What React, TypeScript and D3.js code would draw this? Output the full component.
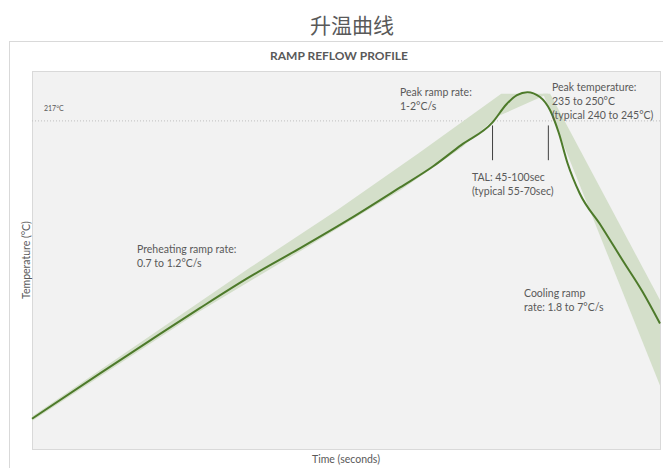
import * as d3 from "d3";

// reflow profile curve (time s, temperature °C)
const profileTime = [0, 39, 68, 96, 125, 154, 182, 211, 230, 246, 264, 272, 278, 284, 291, 297, 302, 307, 314, 326, 339, 350, 360];
const profileTemp = [20, 50, 72, 93, 114, 133, 152, 173, 187, 201, 216, 228, 234, 236, 233, 224, 209, 189, 169, 148, 124, 104, 83];

// shaded tolerance window: ramp + peak, then cooling
const rampBandTime = [0, 68, 125, 175, 222, 269, 296, 267, 246, 211, 154, 96, 39, 0];
const rampBandTemp = [21.5, 75, 120, 158, 196, 235, 235, 220, 199, 171, 131, 91, 48, 18.5];
const coolBandTime = [293, 297, 360, 360];
const coolBandTemp = [235, 235, 98.5, 42];

const liquidus = 217;
const talTimes = [264, 296];
const talMarkerTemps = [214, 191];

const preheatLabel = ["Preheating ramp rate:", "0.7 to 1.2°C/s"];
const peakRampLabel = ["Peak ramp rate:", "1-2°C/s"];
const peakTempLabel = ["Peak temperature:", "235 to 250°C", "(typical 240 to 245°C)"];
const talLabel = ["TAL: 45-100sec", "(typical 55-70sec)"];
const coolingLabel = ["Cooling ramp", "rate: 1.8 to 7°C/s"];

const W = 663;
const H = 468;
const plot = { left: 32, top: 71, right: 660, bottom: 449 };
const textColor = "#595959";
const font = "Lato, 'Liberation Sans', sans-serif";

function Label({ lines, x, y }: { lines: string[]; x: number; y: number }) {
  return (
    <text x={x} y={y} fontSize={10.5} fill={textColor} fontFamily={font}>
      {lines.map((line, i) => (
        <tspan key={i} x={x} dy={i === 0 ? 0 : 14}>
          {line}
        </tspan>
      ))}
    </text>
  );
}

export default function App() {
  const x = d3.scaleLinear().domain([0, 360]).range([plot.left, plot.right]);
  const y = d3.scaleLinear().domain([0, 250]).range([plot.bottom, plot.top]);

  const line = d3
    .line<number>()
    .x((i) => x(profileTime[i]))
    .y((i) => y(profileTemp[i]))
    .curve(d3.curveMonotoneX);

  const band = (times: number[], temps: number[]) =>
    d3
      .line<number>()
      .x((i) => x(times[i]))
      .y((i) => y(temps[i]))
      .curve(d3.curveLinearClosed)(d3.range(times.length)) ?? "";

  return (
    <svg width={W} height={H} style={{ position: "absolute", left: 0, top: 0 }}>
      <rect width={W} height={H} fill="#fff" />
      <text x={352} y={33} textAnchor="middle" fontSize={21} fill={textColor} fontFamily="'Noto Sans CJK SC', sans-serif">
        升温曲线
      </text>
      <rect x={9.5} y={41.5} width={700} height={500} fill="#fff" stroke="#d9d9d9" />
      <text x={339} y={60} textAnchor="middle" fontSize={12} fontWeight="bold" fill={textColor} fontFamily={font}>
        RAMP REFLOW PROFILE
      </text>

      <rect
        x={plot.left + 0.5}
        y={plot.top + 0.5}
        width={plot.right - plot.left}
        height={plot.bottom - plot.top}
        fill="#f2f2f2"
        stroke="#d9d9d9"
      />

      <line
        x1={plot.left}
        x2={plot.right}
        y1={y(liquidus)}
        y2={y(liquidus)}
        stroke="#bfbfbf"
        strokeWidth={1}
        strokeDasharray="1 2"
      />
      <text x={44} y={y(liquidus) - 10} fontSize={7} fill={textColor} fontFamily={font}>
        {liquidus}°C
      </text>

      <path d={band(rampBandTime, rampBandTemp)} fill="#d4dfca" />
      <path d={band(coolBandTime, coolBandTemp)} fill="#d4dfca" />

      <path d={line(d3.range(profileTime.length)) ?? ""} fill="none" stroke="#4d7a2a" strokeWidth={2} />

      {talTimes.map((t) => (
        <line
          key={t}
          x1={x(t)}
          x2={x(t)}
          y1={y(talMarkerTemps[0])}
          y2={y(talMarkerTemps[1])}
          stroke="#404040"
          strokeWidth={1}
        />
      ))}

      <Label lines={preheatLabel} x={137} y={253} />
      <Label lines={peakRampLabel} x={400} y={96} />
      <Label lines={peakTempLabel} x={552} y={91} />
      <Label lines={talLabel} x={472} y={181} />
      <Label lines={coolingLabel} x={524} y={297} />

      <text
        transform={`translate(30,${(plot.top + plot.bottom) / 2}) rotate(-90)`}
        textAnchor="middle"
        fontSize={10.5}
        fill={textColor}
        fontFamily={font}
      >
        Temperature (°C)
      </text>
      <text x={(plot.left + plot.right) / 2} y={463} textAnchor="middle" fontSize={10.5} fill={textColor} fontFamily={font}>
        Time (seconds)
      </text>
    </svg>
  );
}
